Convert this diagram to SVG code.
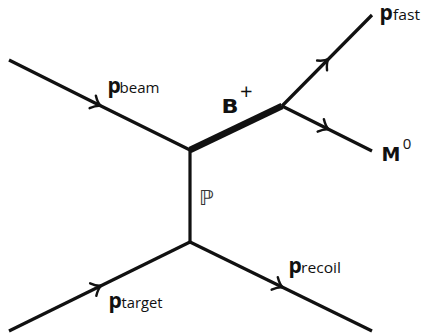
<svg xmlns="http://www.w3.org/2000/svg" width="421" height="334" viewBox="0 0 421 334">
<defs>
<style>
.ln{stroke:#111;stroke-width:3.2;fill:none;stroke-linecap:butt;stroke-linejoin:round}
.thick{stroke:#111;stroke-width:6.5;fill:none}
.p{font-family:"Open Sans","DejaVu Sans",sans-serif;font-weight:bold;font-size:21px;fill:#111}
.sub{font-family:"Open Sans","DejaVu Sans",sans-serif;font-size:14px;fill:#111}
.big{font-family:"DejaVu Sans",sans-serif;font-weight:bold;font-size:19px;fill:#111}
.sup{font-family:"Open Sans","DejaVu Sans",sans-serif;font-size:15px;fill:#111}
</style>
<marker id="arr" viewBox="-9 -9 14 18" markerWidth="14" markerHeight="18" markerUnits="userSpaceOnUse" orient="auto" refX="0" refY="0">
<path d="M-7,-7 Q-2,-1 2,0 Q-2,1 -7,7" fill="none" stroke="#111" stroke-width="2.4" stroke-linecap="round"/>
</marker>
</defs>
<rect width="421" height="334" fill="#fff"/>
<g id="connectors">
<polyline class="ln" points="9,60 99,105 190,150" marker-mid="url(#arr)"/>
<line class="thick" x1="190" y1="150" x2="282" y2="106"/>
<polyline class="ln" points="282,106 327,60.5 372,15" marker-mid="url(#arr)"/>
<polyline class="ln" points="282,106 327,128.5 372,151" marker-mid="url(#arr)"/>
<line class="ln" x1="190" y1="150" x2="190" y2="242"/>
<polyline class="ln" points="9,331 99.5,286.5 190,242" marker-mid="url(#arr)"/>
<polyline class="ln" points="190,242 281,286.5 372,331" marker-mid="url(#arr)"/>
</g>
<g id="beam"><text class="p" x="107.5" y="92.5">p</text><text class="sub" x="119.5" y="92.5" textLength="40" lengthAdjust="spacingAndGlyphs">beam</text></g>
<g id="target"><text class="p" x="108.5" y="307.5">p</text><text class="sub" x="121.5" y="307.5" textLength="41" lengthAdjust="spacingAndGlyphs">target</text></g>
<g id="recoil"><text class="p" x="288.5" y="273">p</text><text class="sub" x="301" y="273" textLength="40" lengthAdjust="spacingAndGlyphs">recoil</text></g>
<g id="fast"><text class="p" x="379.5" y="19.5">p</text><text class="sub" x="393" y="19.5" textLength="27" lengthAdjust="spacingAndGlyphs">fast</text></g>
<g id="bplus"><text class="big" x="221.5" y="113.3" textLength="17" lengthAdjust="spacingAndGlyphs">B</text><text class="sup" x="240" y="99" style="font-size:22px">+</text></g>
<g id="m0"><text class="big" x="381.5" y="161">M</text><text class="sup" x="402.7" y="149">0</text></g>
<g id="pomeron"><text x="199" y="205" style="font-family:'DejaVu Sans',sans-serif;font-size:21px;fill:#333">ℙ</text></g>
</svg>
